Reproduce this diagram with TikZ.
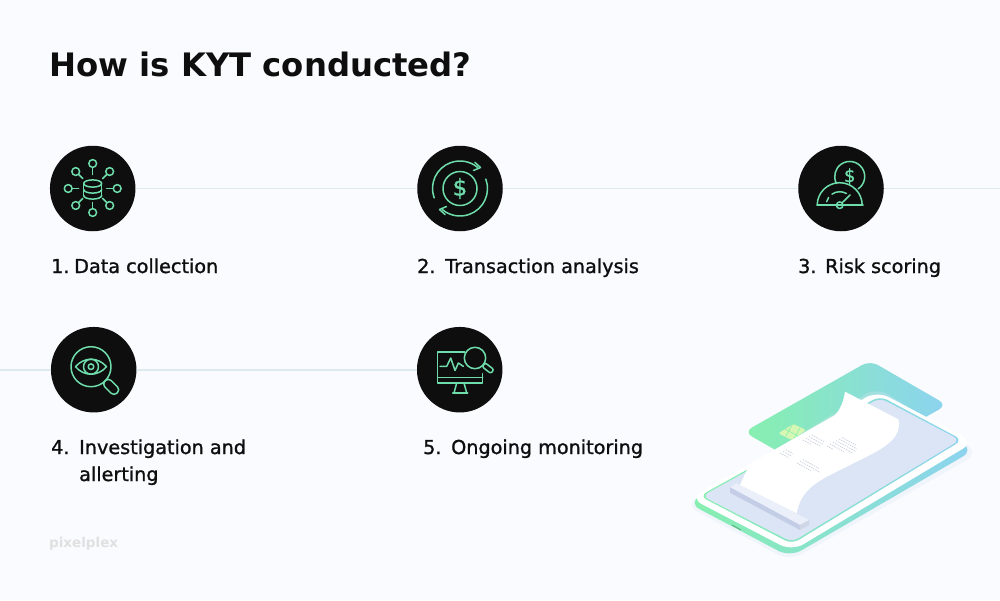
\documentclass[tikz,border=0pt]{standalone}
\usepackage{fontspec}
\setmainfont{DejaVu Sans}
\newfontfamily\labelfont[FakeBold=1.2]{DejaVu Sans}
\usetikzlibrary{positioning}
\definecolor{paper}{HTML}{FAFBFF}
\definecolor{mint}{HTML}{6FDDAB}
\definecolor{linkgrey}{HTML}{DDEAEF}
\definecolor{ink}{HTML}{0E0E0E}
\definecolor{cardgreen}{HTML}{86F0AE}
\definecolor{cardblue}{HTML}{8CD3F0}
\definecolor{screenblue}{HTML}{DCE5F5}
\definecolor{markgrey}{HTML}{C9CFDB}
\definecolor{chipgreen}{HTML}{D6F6B4}
\definecolor{barblue}{HTML}{C3CEE6}
\begin{document}
\begin{tikzpicture}[x=1pt, y=-1pt,
    main/.style = {circle, fill=ink, minimum size=85.5pt, inner sep=0pt},
    link/.style = {linkgrey, line width=1.8pt},
    num/.style = {anchor=base west, inner sep=0pt, ink, font=\labelfont\fontsize{19.2}{27}\selectfont},
    txt/.style = {num, align=left},
    icon/.style = {color=mint, line width=1.5pt, line cap=round, line join=round, x=1pt, y=1pt},
    inkdash/.style = {markgrey, line width=0.7pt, dash pattern=on 1.5pt off 1pt}]
    \useasboundingbox (0,0) rectangle (1000,600);
    \fill[paper] (0,0) rectangle (1000,600);

    \node[anchor=base west, inner sep=0pt, ink] (title) at (49,76) {\fontsize{32.3}{40}\selectfont\bfseries How is KYT conducted?};

    \node[main] (1) at (92.7,188.5) {};
    \node[main] (2) [right of=1, node distance=367.3pt] {};
    \node[main] (3) [right of=2, node distance=381pt] {};
    \node[main] (4) at (93.7,369.7) {};
    \node[main] (5) [right of=4, node distance=366pt] {};
    \coordinate (rightend) at (1000,188.5);
    \coordinate (leftend) at (0,369.7);

    \draw[link] (1) -- (2);
    \draw[link] (2) -- (3);
    \draw[link] (3) -- (rightend);
    \draw[link] (leftend) -- (4);
    \draw[link] (4) -- (5);

    \node[num] (n1) at (51,273) {1.};
    \node[txt] (t1) at (74,273) {Data collection};
    \node[num] (n2) at (417,273) {2.};
    \node[txt] (t2) at (445,273) {Transaction analysis};
    \node[num] (n3) at (798,273) {3.};
    \node[txt] (t3) at (825,273) {Risk scoring};
    \node[num] (n4) at (51,454) {4.};
    \node[txt] (t4) at (79,481) {Investigation and\\allerting};
    \node[num] (n5) at (423,454) {5.};
    \node[txt] (t5) at (451,454) {Ongoing monitoring};

    \node[anchor=base west, inner sep=0pt, text=black!12] (logo) at (49,547) {\fontsize{13.5}{20}\selectfont\bfseries pixelplex};

    % data collection
    \begin{scope}[icon, shift={(1.center)}]
        \draw (0,5) ellipse (9pt and 3.6pt);
        \draw (-9,5) -- (-9,-7) (9,5) -- (9,-7);
        \draw (-9,-7) arc[start angle=180, end angle=360, x radius=9pt, y radius=3.6pt];
        \draw (-9,-1) arc[start angle=180, end angle=360, x radius=9pt, y radius=3.6pt];
        \foreach \a/\r in {0/24.5, 45/24, 90/25, 135/24, 180/24.5, 225/24, 270/24, 315/24} {
            \draw (\a:\r) circle (3.9pt);
            \draw (\a:\r-4) -- (\a:14);
        }
    \end{scope}

    % transaction analysis
    \begin{scope}[icon, shift={(2.center)}]
        \draw (0,0) circle (17pt);
        \node[font=\labelfont\fontsize{23}{24}\selectfont] (dollar2) at (0,0) {\$};
        \draw (200:27.5) arc[start angle=200, end angle=50, radius=27.5pt];
        \draw (15,26) -- (20.5,21) -- (13.5,18);
        \draw (20:27.5) arc[start angle=20, end angle=-130, radius=27.5pt];
        \draw (-15,-26) -- (-20.5,-21) -- (-13.5,-18);
    \end{scope}

    % risk scoring
    \begin{scope}[icon, shift={(3.center)}]
        \draw (8.7+8.4,12-12.4) arc[start angle=-56, end angle=208, radius=15pt];
        \node[font=\labelfont\fontsize{18}{19}\selectfont] (dollar3) at (8.7,12) {\$};
        \draw (-24,-16.7) -- (22,-16.7);
        \draw (-23.8,-16.7) arc[start angle=180, end angle=0, radius=22.5pt];
        \draw (-1.3,-16.7) ++(125:13.5) arc[start angle=125, end angle=60, radius=13.5pt];
        \draw (-1.3,-16.7) ++(165:13.5) arc[start angle=165, end angle=145, radius=13.5pt];
        \draw (-1.3,-16.7) circle (3.3pt);
        \draw (1,-14.4) -- (9,-6.5);
    \end{scope}

    % investigation
    \begin{scope}[icon, shift={(4.center)}]
        \begin{scope}[shift={(-2.7,3)}]
            \draw (0,0) circle (20pt);
            \draw (-15.5,0) .. controls (-7,10) and (7,10) .. (15.5,0) .. controls (7,-10) and (-7,-10) .. (-15.5,0) -- cycle;
            \draw (0,0) circle (7.5pt);
            \draw (0,0) circle (2.8pt);
            \draw[rotate=-45, rounded corners=4pt] (20,-4.5) rectangle (37,4.5);
        \end{scope}
    \end{scope}

    % ongoing monitoring
    \begin{scope}[icon, shift={(5.center)}]
        \draw (5,17.7) -- (-22,17.7) -- (-22,-13.3) -- (23,-13.3) -- (23,-4);
        \draw (-22,-7.7) -- (23,-7.7);
        \draw (-3,-13.3) -- (-5.7,-23.3) (4.3,-13.3) -- (7,-23.3);
        \draw (-7,-23.3) -- (8,-23.3);
        \draw (-19.7,3.3) -- (-13,3.3) -- (-9,11.7) -- (-4.7,-0.7) -- (-1.3,6.7) -- (3.7,3.3);
        \begin{scope}[shift={(15.3,11.7)}]
            \draw (0,0) circle (10.7pt);
            \draw[rotate=-38, rounded corners=2pt] (11,-2.5) rectangle (22,2.5);
        \end{scope}
    \end{scope}

    % card behind the phone
    \shade[left color=cardgreen, right color=cardblue, rounded corners=9pt]
        (744,432) -- (870,360.5) -- (947,405) -- (821,476) -- cycle;

    % phone
    \fill[screenblue, opacity=.3, rounded corners=14pt] (685,505) -- (790,561) -- (979,453) -- (877,387) -- cycle;
    \shade[left color=cardgreen, right color=cardblue, rounded corners=13pt]
        (688,503) -- (790,557) -- (974,450) -- (877,392) -- cycle;
    \fill[white, rounded corners=13pt]
        (690,498) -- (792,551) -- (974,442) -- (877,391) -- cycle;
    \shade[left color=cardgreen, right color=cardblue, rounded corners=8pt]
        (699.5,496) -- (792,544) -- (962.5,440) -- (880,396) -- cycle;
    \fill[screenblue, rounded corners=7pt]
        (702,496) -- (792,542) -- (960,440) -- (880,398) -- cycle;
    \draw[cardgreen!70!black, line width=0.8pt] (732,525) -- (741,530);

    % chip of the card
    \fill[chipgreen, rounded corners=1.5pt]
        (778.3,433.3) -- (793.3,424) -- (806,430) -- (791.7,440) -- cycle;
    \draw[cardgreen, line width=0.6pt] (785,429) -- (798,436) (792,425) -- (786,436) (800,428) -- (794,438);

    % printer bar
    \fill[screenblue!60!white] (736.7,483.3) -- (809.3,520) -- (800,525) -- (730,487.3) -- cycle;
    \fill[barblue] (730,487.3) -- (800,525) -- (800,530) -- (730,492.7) -- cycle;
    \fill[black!6!screenblue] (800,525) -- (809.3,520) -- (809.3,525) -- (800,530) -- cycle;

    % receipt
    \fill[white] (740,485) -- (748.3,466.7) -- (823.3,425)
        .. controls (838,416) and (843,405) .. (845,391.7) -- (898.3,419.3)
        .. controls (902,435) and (890,445) .. (866.7,456.7) -- (826.7,476.7)
        .. controls (810,486) and (800,495) .. (796.7,513.3) -- cycle;
    \foreach \x/\y/\l in {780/453/9, 783/451.4/9, 786/449.8/7,
        803/440/8, 806/438.3/14, 809/436.6/14, 812/435/12,
        827/446/6, 830/444/14, 833/442.3/20, 836/440.6/20, 839/439/18, 842/437.4/14,
        797/463/14, 800/461.3/20, 803/459.6/16}
        \draw[inkdash] (\x,\y) -- ++(\l,0.55*\l);
\end{tikzpicture}
\end{document}
